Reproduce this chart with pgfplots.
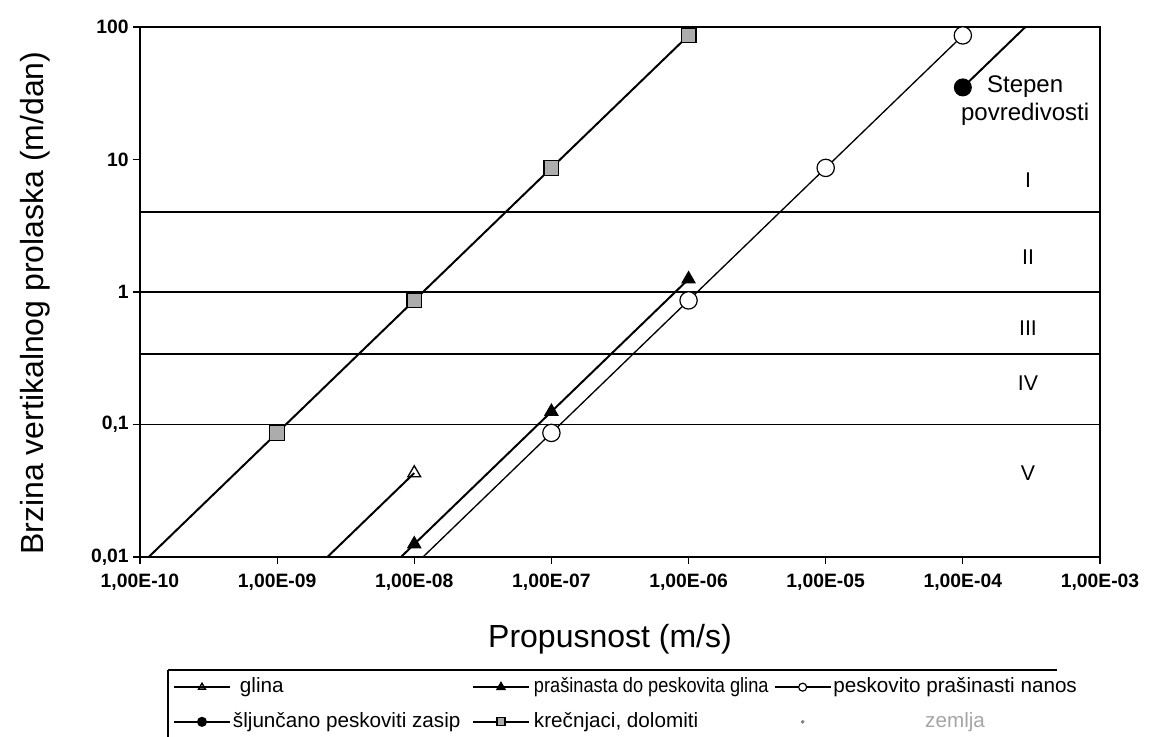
\documentclass[border=0pt]{standalone}
\usepackage{fontspec}
\setmainfont{Liberation Sans}
\newfontfamily\narrowfont[FakeStretch=0.88]{Liberation Sans}
\usepackage{pgfplots}
\pgfplotsset{compat=1.18}
\begin{document}
\begin{tikzpicture}
\useasboundingbox (0,0) rectangle (861.75pt,552.75pt);
\begin{axis}[
  at={(105pt,135pt)}, anchor=south west,
  scale only axis, width=720pt, height=397.5pt,
  xmode=log, ymode=log,
  xmin=1e-10, xmax=1e-3, ymin=0.01, ymax=100,
  xtick={1e-10,1e-9,1e-8,1e-7,1e-6,1e-5,1e-4,1e-3},
  xticklabels={{1,00E-10},{1,00E-09},{1,00E-08},{1,00E-07},{1,00E-06},{1,00E-05},{1,00E-04},{1,00E-03}},
  ytick={0.01,0.1,1,10,100},
  yticklabels={{0,01},{0,1},{1},{10},{100}},
  xminorticks=false, yminorticks=false,
  xtick pos=left, ytick pos=left,
  tick align=outside, major tick length=5pt,
  tick style={black, line width=0.9pt},
  axis line style={line width=1.3pt},
  ticklabel style={font=\bfseries\fontsize{14.5}{16}\selectfont},
  xticklabel style={yshift=-4pt},
  xlabel={Propusnost (m/s)},
  ylabel={Brzina vertikalnog prolaska (m/dan)},
  label style={font=\fontsize{24}{27}\selectfont},
  xlabel style={at={(axis description cs:0.4896,-0.170)}, anchor=base},
  ylabel style={at={(axis description cs:-0.1094,0.479)}, anchor=center},
  clip marker paths=true,
  legend columns=3,
  legend style={draw=none, fill=none, inner sep=0pt, outer sep=0pt,
    at={(axis description cs:0.0344,-0.2783)}, anchor=west,
    column sep=0pt, row sep=12pt,
    font=\fontsize{15.5}{17}\selectfont,
    nodes={inner sep=0pt, text height=11pt, text depth=3pt}},
  legend image code/.code={\draw[mark repeat=2,mark phase=2,#1] plot coordinates {(0pt,0pt)(21pt,0pt)(42pt,0pt)};},
  legend image post style={mark size=3pt},
]
% class boundaries
\addplot[black, line width=1.4pt, forget plot] coordinates {(1e-10,4)(1e-3,4)};
\addplot[black, line width=1.4pt, forget plot] coordinates {(1e-10,1)(1e-3,1)};
\addplot[black, line width=1.4pt, forget plot] coordinates {(1e-10,0.34)(1e-3,0.34)};
\addplot[black, line width=1.4pt, forget plot] coordinates {(1e-10,0.1)(1e-3,0.1)};
% series
\addplot[black, line width=1.5pt, mark=triangle, mark size=5.5pt, mark options={fill=white, line width=1pt}]
  coordinates {(1e-9,0.0043)(1e-8,0.043)};
\addlegendentry{\makebox[180.75pt][l]{\hspace{6.75pt}glina}}
\addplot[black, line width=1.5pt, mark=triangle*, mark size=5pt, mark options={fill=black}]
  coordinates {(1e-9,0.00125)(1e-8,0.0125)(1e-7,0.125)(1e-6,1.25)};
\addlegendentry{\makebox[183pt][l]{\hspace{3pt}\narrowfont prašinasta do peskovita glina}}
\addplot[black, line width=1pt, mark=*, mark size=6.5pt, mark options={fill=white, line width=0.9pt}]
  coordinates {(1e-8,0.00864)(1e-7,0.0864)(1e-6,0.864)(1e-5,8.64)(1e-4,86.4)};
\addlegendentry{\hspace{1.5pt}peskovito prašinasti nanos}
\addplot[black, line width=1.5pt, mark=*, mark size=6pt]
  coordinates {(1e-4,35)(1e-3,350)};
\addlegendentry{\makebox[180.75pt][l]{\hspace{1.5pt}šljunčano peskoviti zasip}}
\addplot[black, line width=1.5pt, mark=square*, mark size=5.5pt, mark options={fill=gray!65, line width=1pt}]
  coordinates {(1e-10,0.00864)(1e-9,0.0864)(1e-8,0.864)(1e-7,8.64)(1e-6,86.4)};
\addlegendentry{\makebox[183pt][l]{\hspace{3pt}krečnjaci, dolomiti}}
\addlegendimage{legend image code/.code={\fill[gray] (21pt,0pt) circle (1.2pt);}}
\addlegendentry{\hspace{1.5pt}\textcolor{gray!70}{zemlja}}
\coordinate (rI) at (rel axis cs:0.925,0.711);
\coordinate (rII) at (rel axis cs:0.925,0.566);
\coordinate (rIII) at (rel axis cs:0.925,0.432);
\coordinate (rIV) at (rel axis cs:0.925,0.328);
\coordinate (rV) at (rel axis cs:0.925,0.158);
\coordinate (rS) at (rel axis cs:0.922,0.887);
\coordinate (rP) at (rel axis cs:0.922,0.836);
\end{axis}
\begin{scope}[every node/.style={font=\fontsize{16}{18}\selectfont}]
\node at (rI) {I};
\node at (rII) {II};
\node at (rIII) {III};
\node at (rIV) {IV};
\node at (rV) {V};
\end{scope}
\node[font=\fontsize{18}{20}\selectfont] at (rS) {Stepen};
\node[font=\fontsize{18}{20}\selectfont] at (rP) {povredivosti};
\draw[line width=1.6pt] (126pt,50.25pt) -- (792.75pt,50.25pt);
\draw[line width=1pt] (126pt,50.25pt) -- (126pt,-5pt);
\end{tikzpicture}
\end{document}
